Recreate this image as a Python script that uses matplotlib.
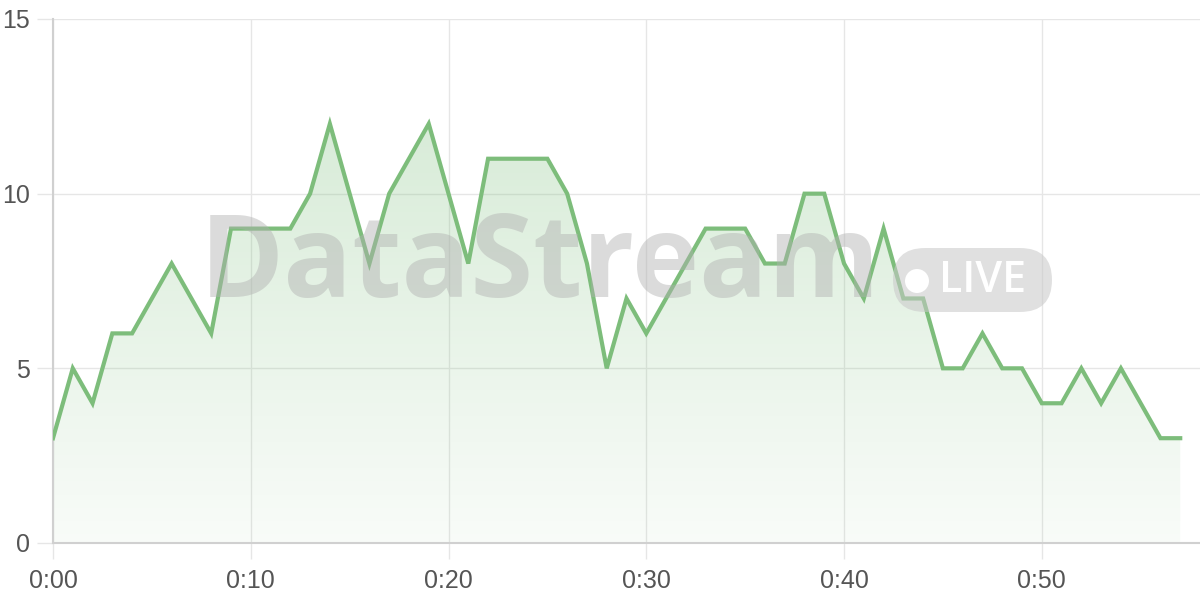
import matplotlib
matplotlib.use("Agg")
import matplotlib.pyplot as plt
import numpy as np
from matplotlib.patches import FancyBboxPatch, Circle, Polygon
from matplotlib.colors import LinearSegmentedColormap

minutes = list(range(58))
values = [3, 5, 4, 6, 6, 7, 8, 7, 6, 9, 9, 9, 9, 10, 12, 10, 8, 10, 11, 12,
          10, 8, 11, 11, 11, 11, 10, 8, 5, 7, 6, 7, 8, 9, 9, 9, 8, 8, 10, 10,
          8, 7, 9, 7, 7, 5, 5, 6, 5, 5, 4, 4, 5, 4, 5, 4, 3, 3]
xticks = [0, 10, 20, 30, 40, 50]
xticklabels = ["0:00", "0:10", "0:20", "0:30", "0:40", "0:50"]
yticks = [0, 5, 10, 15]

plt.rcParams['font.family'] = ['Liberation Sans', 'DejaVu Sans']

fig = plt.figure(figsize=(12, 6), dpi=100)
ax = fig.add_axes([53/1200, 1 - 543/600, (1200-53)/1200, (543-19)/600])

px = fig.dpi_scale_trans  # inches; 1 inch = 100 px

# watermark
fig.text(540/1200, 1 - 268/600, "DataStream", fontsize=82, fontweight='bold',
         color='#b0b0b0', alpha=0.45, ha='center', va='center', zorder=0,
         family=['Open Sans', 'DejaVu Sans'])
pill = FancyBboxPatch((8.93, (600-312)/100), 1.59, 0.64,
                      boxstyle="round,pad=0,rounding_size=0.32",
                      transform=px, facecolor='#c8c8c8', alpha=0.55,
                      edgecolor='none', zorder=0)
fig.patches.append(pill)
fig.patches.append(Circle((9.17, (600-281)/100), 0.12, transform=px,
                          facecolor='white', edgecolor='none', zorder=0.5))
fig.text(983/1200, 1 - 280/600, "LIVE", fontsize=31, color='white', fontweight='semibold',
         ha='center', va='center', zorder=0.5, family=['Open Sans', 'DejaVu Sans'])

ax.patch.set_alpha(0)
fig.patch.set_facecolor('white')

# gradient fill
grad = np.linspace(0, 1, 256).reshape(-1, 1)
cmap = LinearSegmentedColormap.from_list('g', [(0, (0.49, 0.75, 0.49, 0.05)), (1, (0.49, 0.75, 0.49, 0.30))])
img = ax.imshow(grad, extent=[0, 57, 0, 12], origin='lower', aspect='auto', cmap=cmap, zorder=1)
verts = [(0, 0)] + list(zip(minutes, values)) + [(57, 0)]
poly = Polygon(verts, closed=True, facecolor='none', edgecolor='none', transform=ax.transData)
ax.add_patch(poly)
img.set_clip_path(poly)
ax.set_xlim(0, 58)
ax.set_ylim(0, 15)

ax.plot(minutes, values, color='#7dbd7b', linewidth=3, zorder=3, solid_joinstyle='miter')

ax.set_xticks(xticks)
ax.set_xticklabels(xticklabels)
ax.set_yticks(yticks)
ax.grid(True, color='#e6e6e6', linewidth=1, zorder=0)
ax.set_axisbelow(True)
for s in ['top', 'right']:
    ax.spines[s].set_visible(False)
for s in ['left', 'bottom']:
    ax.spines[s].set_color('#d0d0d0')
    ax.spines[s].set_linewidth(1.5)
ax.tick_params(axis='both', length=11.5, color='#e6e6e6', labelsize=18, labelcolor='#555555', width=1)
ax.tick_params(axis='x', pad=7)
ax.tick_params(axis='y', pad=5)

fig.savefig('out.png', dpi=100)
